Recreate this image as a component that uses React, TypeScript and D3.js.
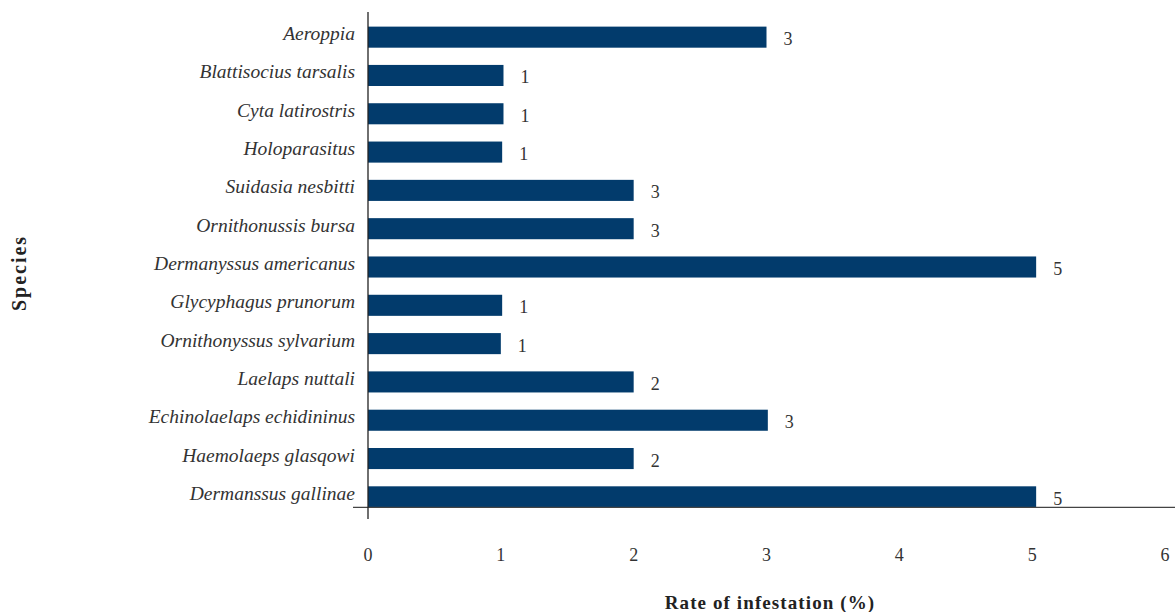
import React, { useRef, useEffect } from "react";
import * as d3 from "d3";

// species top to bottom, as in the figure
const species = [
  "Aeroppia",
  "Blattisocius tarsalis",
  "Cyta latirostris",
  "Holoparasitus",
  "Suidasia nesbitti",
  "Ornithonussis bursa",
  "Dermanyssus americanus",
  "Glycyphagus prunorum",
  "Ornithonyssus sylvarium",
  "Laelaps nuttali",
  "Echinolaelaps echidininus",
  "Haemolaeps glasqowi",
  "Dermanssus gallinae",
];

// bar lengths
const rates = [3, 1.02, 1.02, 1.01, 2.0, 2.0, 5.03, 1.01, 1.0, 2.0, 3.01, 2.0, 5.03];

// value labels printed next to the bars
const valueLabels = ["3", "1", "1", "1", "3", "3", "5", "1", "1", "2", "3", "2", "5"];

const xTicks = [0, 1, 2, 3, 4, 5, 6];

const App: React.FC = () => {
  const ref = useRef<SVGSVGElement | null>(null);

  useEffect(() => {
    if (!ref.current) return;
    const svg = d3.select(ref.current);
    svg.selectAll("*").remove();

    const serif = "'Liberation Serif', 'DejaVu Serif', serif";
    const barColor = "#023b6c";
    const textColor = "#333";

    const x = d3.scaleLinear().domain([0, 6]).range([368, 1165]);
    const y = d3
      .scaleBand<string>()
      .domain(species)
      .range([18, 516])
      .paddingInner(0.45)
      .paddingOuter(0.225);

    const rows = species.map((s, i) => ({ name: s, value: rates[i], label: valueLabels[i] }));

    // bars
    svg
      .append("g")
      .selectAll("rect")
      .data(rows)
      .join("rect")
      .attr("x", x(0))
      .attr("y", (d) => y(d.name)!)
      .attr("width", (d) => x(d.value) - x(0))
      .attr("height", y.bandwidth())
      .attr("fill", barColor);

    // value labels
    svg
      .append("g")
      .selectAll("text")
      .data(rows)
      .join("text")
      .attr("x", (d) => x(d.value) + 17)
      .attr("y", (d) => y(d.name)! + y.bandwidth() / 2 + 8)
      .attr("font-family", serif)
      .attr("font-size", 18)
      .attr("fill", textColor)
      .text((d) => d.label);

    // species names
    svg
      .append("g")
      .selectAll("text")
      .data(rows)
      .join("text")
      .attr("x", 355)
      .attr("y", (d) => y(d.name)! + y.bandwidth() / 2 + 3)
      .attr("text-anchor", "end")
      .attr("font-family", serif)
      .attr("font-style", "italic")
      .attr("font-size", 19.5)
      .attr("fill", textColor)
      .text((d) => d.name);

    // axes lines
    const axisY = y(species[species.length - 1])! + y.bandwidth();
    svg
      .append("line")
      .attr("x1", 353)
      .attr("x2", 1175)
      .attr("y1", axisY)
      .attr("y2", axisY)
      .attr("stroke", "#444")
      .attr("stroke-width", 1.3);
    svg
      .append("line")
      .attr("x1", x(0))
      .attr("x2", x(0))
      .attr("y1", 12)
      .attr("y2", 519)
      .attr("stroke", "#222")
      .attr("stroke-width", 1.3);

    // x tick labels
    svg
      .append("g")
      .selectAll("text")
      .data(xTicks)
      .join("text")
      .attr("x", (d) => x(d))
      .attr("y", 561)
      .attr("text-anchor", "middle")
      .attr("font-family", serif)
      .attr("font-size", 18)
      .attr("fill", textColor)
      .text((d) => d);

    // axis titles
    svg
      .append("text")
      .attr("x", 770)
      .attr("y", 609)
      .attr("text-anchor", "middle")
      .attr("font-family", serif)
      .attr("font-weight", "bold")
      .attr("font-size", 19)
      .attr("letter-spacing", 1.1)
      .attr("fill", "#222")
      .text("Rate of infestation (%)");
    svg
      .append("text")
      .attr("transform", "translate(26,273) rotate(-90)")
      .attr("text-anchor", "middle")
      .attr("font-family", serif)
      .attr("font-weight", "bold")
      .attr("font-size", 20)
      .attr("letter-spacing", 2)
      .attr("fill", "#222")
      .text("Species");
  }, []);

  return (
    <svg
      ref={ref}
      width={1175}
      height={612}
      style={{ position: "absolute", left: 0, top: 0, background: "#fff" }}
    />
  );
};

export default App;
